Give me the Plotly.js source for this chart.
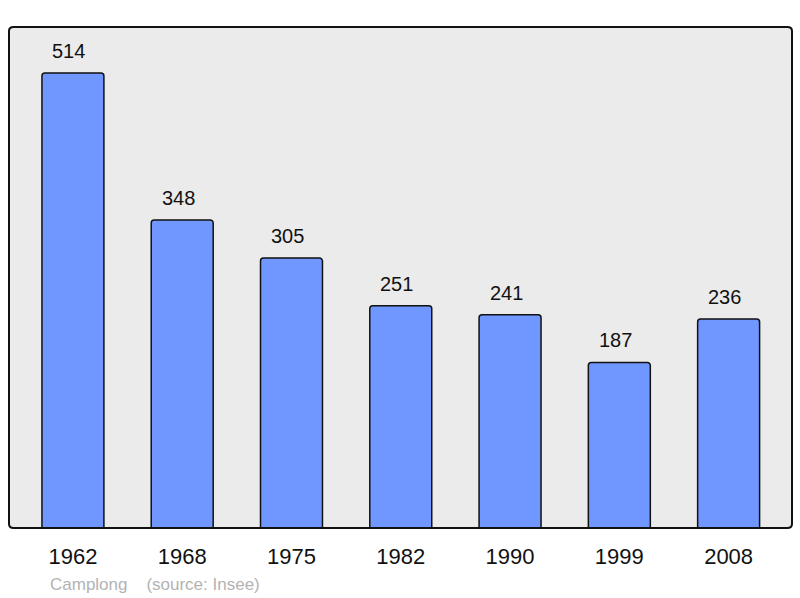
<!DOCTYPE html>
<html><head><meta charset="utf-8">
<script src="https://cdn.plot.ly/plotly-3.0.1.min.js"></script>
<style>html,body{margin:0;padding:0;background:#fff}</style>
</head><body><div id="chart" style="width:800px;height:598px"></div>
<script>
const years = ["1962","1968","1975","1982","1990","1999","2008"];
const population = [514, 348, 305, 251, 241, 187, 236];
const footer = "Camplong &nbsp;&nbsp; (source: Insee)";

const xs = years.map((_, i) => i);
const trace = {
  type: 'bar', x: xs, y: population, width: 0.567,
  marker: {color: '#7096ff', line: {color: '#111', width: 1.5}, cornerradius: 3},
  hoverinfo: 'skip'
};
const ann = population.map((v, i) => ({
  x: i, y: v, xref: 'x', yref: 'y', text: String(v), showarrow: false,
  yshift: 22, xshift: -4, font: {size: 20, color: '#111'}
}));
ann.push({xref: 'paper', yref: 'paper', x: 0.0498, y: -0.112, xanchor: 'left', yanchor: 'middle',
  text: footer, showarrow: false, font: {size: 17, color: '#b3b3b3'}});

const layout = {
  width: 800, height: 598,
  margin: {l: 9, r: 8, t: 27, b: 70},
  paper_bgcolor: '#fff', plot_bgcolor: '#ebebeb',
  font: {family: 'Liberation Sans, Arial, sans-serif', color: '#111'},
  showlegend: false,
  xaxis: {range: [-0.585, 6.58], tickvals: xs, ticktext: years, showgrid: false, zeroline: false,
    ticks: 'outside', ticklen: 9, tickcolor: 'rgba(0,0,0,0)', tickfont: {size: 22, color: '#111'}, fixedrange: true},
  yaxis: {range: [0, 566], showgrid: false, zeroline: false, showticklabels: false, fixedrange: true},
  shapes: [{type: 'path', xref: 'paper', yref: 'paper',
    path: 'M 0.006 0 L 0.994 0 Q 1 0 1 0.008 L 1 0.992 Q 1 1 0.994 1 L 0.006 1 Q 0 1 0 0.992 L 0 0.008 Q 0 0 0.006 0 Z',
    line: {color: '#111', width: 2}, layer: 'above'}],
  annotations: ann
};
Plotly.newPlot('chart', [trace], layout, {displayModeBar: false, staticPlot: true});
</script></body></html>
